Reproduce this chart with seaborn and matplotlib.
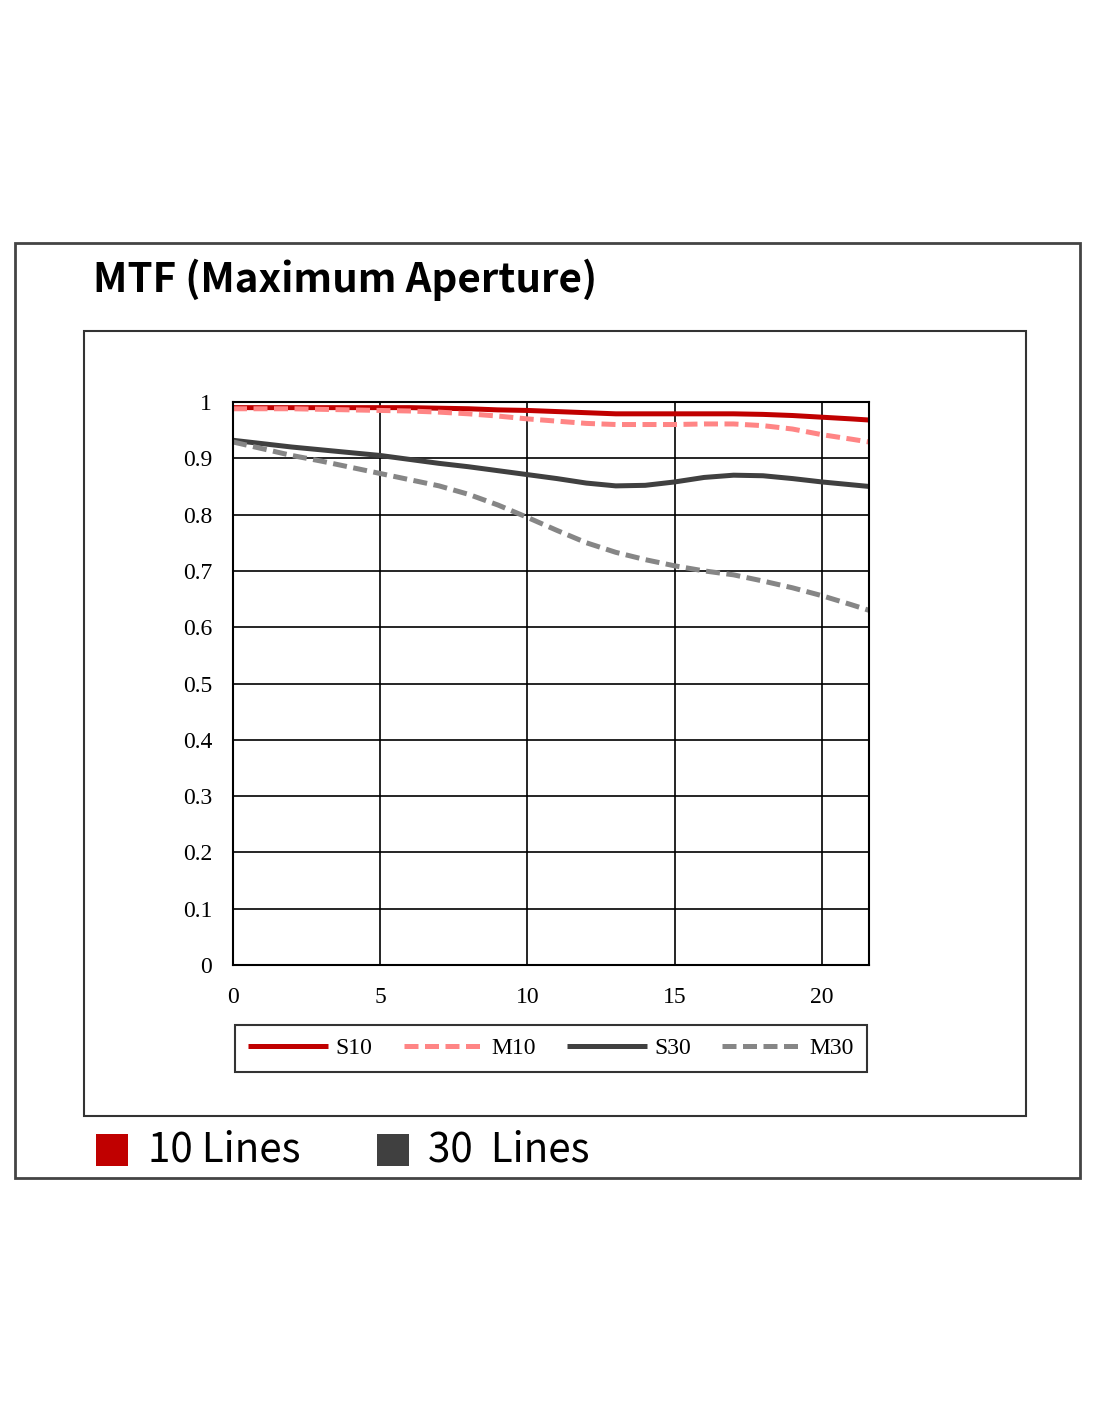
import matplotlib
matplotlib.use("Agg")
import matplotlib.pyplot as plt
from matplotlib.patches import Rectangle
import seaborn as sns
import pandas as pd

# image height (mm) vs MTF
image_height = [0, 1, 2, 3, 4, 5, 6, 7, 8, 9, 10, 11, 12, 13, 14, 15, 16, 17, 18, 19, 20, 21, 21.6]
s10 = [.990, .990, .990, .990, .990, .990, .990, .989, .988, .986, .985, .983, .981, .979,
       .979, .979, .979, .979, .978, .976, .973, .970, .968]
m10 = [.988, .988, .988, .987, .986, .985, .984, .982, .979, .975, .970, .966, .962, .960,
       .960, .960, .961, .961, .958, .952, .942, .934, .929]
s30 = [.932, .926, .920, .915, .910, .905, .898, .891, .885, .878, .871, .864, .856, .851,
       .852, .858, .866, .870, .869, .864, .858, .853, .850]
m30 = [.929, .917, .905, .895, .884, .873, .862, .851, .836, .817, .795, .772, .750, .733,
       .720, .709, .700, .693, .682, .670, .656, .640, .630]

series_names = ["S10", "M10", "S30", "M30"]
series_colors = ["#c00000", "#ff8585", "#404040", "#868686"]
series_dashed = [False, True, False, True]

x_ticks = [0, 5, 10, 15, 20]
y_ticks = [0, 0.1, 0.2, 0.3, 0.4, 0.5, 0.6, 0.7, 0.8, 0.9, 1]
y_tick_labels = ["0", "0.1", "0.2", "0.3", "0.4", "0.5", "0.6", "0.7", "0.8", "0.9", "1"]

title = "MTF (Maximum Aperture)"
group_labels = ["10 Lines", "30  Lines"]
group_colors = ["#c00000", "#404040"]

W, H = 1100, 1422
SANS = ["Noto Sans CJK KR", "DejaVu Sans"]


def fx(px):
    return px / W


def fy(py):
    return 1 - py / H


def main() -> None:
    sns.set_theme(style="white")
    plt.rcParams["font.family"] = ["Liberation Serif", "DejaVu Serif"]
    plt.rcParams["text.color"] = "black"

    fig = plt.figure(figsize=(11, 14.22), dpi=100)
    ax = fig.add_axes([fx(233), fy(965), fx(869) - fx(233), fy(402) - fy(965)])

    df = pd.DataFrame({"x": image_height, "S10": s10, "M10": m10, "S30": s30, "M30": m30})
    for name, color, dashed in zip(series_names, series_colors, series_dashed):
        kw = dict(dashes=(2.8, 1.3)) if dashed else {}
        sns.lineplot(data=df, x="x", y=name, ax=ax, color=color, lw=3.6,
                     label=name, solid_capstyle="butt", solid_joinstyle="round", **kw)

    ax.set_xlim(0, 21.6)
    ax.set_ylim(0, 1)
    ax.set_xticks(x_ticks)
    ax.set_yticks(y_ticks)
    ax.set_yticklabels(y_tick_labels)
    ax.set_xlabel("")
    ax.set_ylabel("")
    ax.grid(True, color="black", lw=1.2)
    ax.set_axisbelow(True)
    for sp in ax.spines.values():
        sp.set_color("black")
        sp.set_linewidth(1.5)
    ax.tick_params(axis="both", length=0, labelsize=17, colors="black")
    ax.tick_params(axis="y", pad=15)
    ax.tick_params(axis="x", pad=16)

    leg = ax.legend(loc="lower left", ncol=4, mode="expand",
                    bbox_to_anchor=(fx(235), fy(1072), fx(867) - fx(235), fy(1024) - fy(1072)),
                    bbox_transform=fig.transFigure, frameon=True, fancybox=False,
                    edgecolor="black", fontsize=17, handlelength=3.4, handletextpad=0.3,
                    borderaxespad=0, borderpad=0.55)
    leg.get_frame().set_linewidth(1.5)

    # outer and inner frames
    fig.patches.append(Rectangle((fx(15), fy(1178)), fx(1080) - fx(15), fy(243) - fy(1178),
                                 transform=fig.transFigure, fill=False, ec="#444444", lw=2))
    fig.patches.append(Rectangle((fx(84), fy(1116)), fx(1026) - fx(84), fy(331) - fy(1116),
                                 transform=fig.transFigure, fill=False, ec="#333333", lw=1.5))

    fig.text(fx(93), fy(280), title, fontsize=29, fontweight="bold", color="black",
             family=SANS, va="center", ha="left")

    for label, color, sq_x, tx in zip(group_labels, group_colors, [96, 377], [148, 428]):
        fig.patches.append(Rectangle((fx(sq_x), fy(1166)), fx(32), fy(1134) - fy(1166),
                                     transform=fig.transFigure, fc=color, ec="none"))
        fig.text(fx(tx), fy(1150), label, fontsize=29, color="black", family=SANS,
                 va="center", ha="left")

    fig.savefig("out.png", dpi=100)
    plt.close(fig)


if __name__ == "__main__":
    main()
